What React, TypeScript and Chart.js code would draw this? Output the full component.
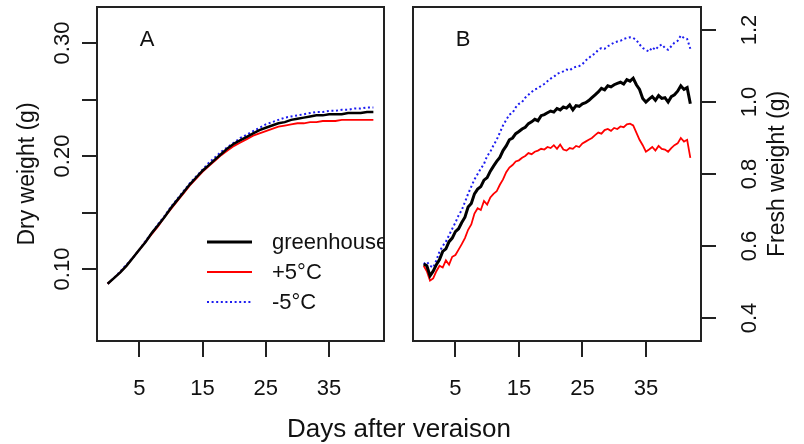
import React, { useEffect, useRef } from "react";
import { Chart, registerables } from "chart.js";
Chart.register(...registerables);

const FONT = '"Liberation Sans", Arial, Helvetica, sans-serif';

// ---- Panel A: dry weight ----
const daysA = [0, 1, 2, 3, 4, 5, 6, 7, 8, 9, 10, 11, 12, 13, 14, 15, 16, 17, 18, 19, 20, 21, 22, 23, 24, 25, 26, 27, 28, 29, 30, 31, 32, 33, 34, 35, 36, 37, 38, 39, 40, 41, 42];
const dryGreenhouse = [0.087, 0.092, 0.097, 0.103, 0.110, 0.117, 0.124, 0.132, 0.139, 0.146, 0.154, 0.161, 0.168, 0.175, 0.181, 0.187, 0.192, 0.197, 0.202, 0.207, 0.211, 0.214, 0.217, 0.220, 0.223, 0.225, 0.227, 0.229, 0.230, 0.232, 0.233, 0.234, 0.235, 0.236, 0.236, 0.237, 0.237, 0.237, 0.238, 0.238, 0.238, 0.239, 0.239];
const dryPlus5 = [0.087, 0.092, 0.097, 0.103, 0.110, 0.117, 0.124, 0.131, 0.138, 0.146, 0.153, 0.160, 0.167, 0.174, 0.180, 0.186, 0.191, 0.196, 0.201, 0.205, 0.209, 0.212, 0.215, 0.218, 0.220, 0.222, 0.224, 0.226, 0.227, 0.228, 0.229, 0.229, 0.230, 0.230, 0.231, 0.231, 0.231, 0.232, 0.232, 0.232, 0.232, 0.232, 0.232];
const dryMinus5 = [0.087, 0.092, 0.098, 0.104, 0.110, 0.117, 0.125, 0.132, 0.140, 0.147, 0.155, 0.162, 0.169, 0.176, 0.182, 0.188, 0.194, 0.199, 0.204, 0.208, 0.212, 0.216, 0.219, 0.222, 0.225, 0.228, 0.230, 0.232, 0.234, 0.235, 0.236, 0.237, 0.238, 0.239, 0.239, 0.240, 0.240, 0.241, 0.241, 0.242, 0.242, 0.243, 0.243];

// ---- Panel B: fresh weight ----
const daysB = [
  0, 0.5, 1, 1.5, 2, 2.5, 3, 3.5, 4, 4.5,
  5, 5.5, 6, 6.5, 7, 7.5, 8, 8.5, 9, 9.5,
  10, 10.5, 11, 11.5, 12, 12.5, 13, 13.5, 14, 14.5,
  15, 15.5, 16, 16.5, 17, 17.5, 18, 18.5, 19, 19.5,
  20, 20.5, 21, 21.5, 22, 22.5, 23, 23.5, 24, 24.5,
  25, 25.5, 26, 26.5, 27, 27.5, 28, 28.5, 29, 29.5,
  30, 30.5, 31, 31.5, 32, 32.5, 33, 33.5, 34, 34.5,
  35, 35.5, 36, 36.5, 37, 37.5, 38, 38.5, 39, 39.5,
  40, 40.5, 41, 41.5, 42,
];
const freshGreenhouse = [
  0.550, 0.545, 0.517, 0.530, 0.548, 0.562, 0.585, 0.592, 0.612, 0.622,
  0.640, 0.648, 0.665, 0.680, 0.708, 0.718, 0.745, 0.758, 0.765, 0.783,
  0.790, 0.808, 0.822, 0.835, 0.846, 0.865, 0.878, 0.895, 0.900, 0.912,
  0.918, 0.925, 0.930, 0.940, 0.945, 0.952, 0.948, 0.962, 0.965, 0.970,
  0.975, 0.972, 0.982, 0.978, 0.986, 0.983, 0.992, 0.978, 0.990, 0.988,
  0.995, 0.998, 1.004, 1.012, 1.020, 1.028, 1.038, 1.034, 1.045, 1.042,
  1.048, 1.052, 1.055, 1.050, 1.062, 1.058, 1.066, 1.048, 1.035, 1.010,
  1.000, 1.008, 1.015, 1.005, 1.018, 1.010, 1.012, 1.000, 1.015, 1.020,
  1.030, 1.045, 1.035, 1.040, 0.995,
];
const freshPlus5 = [
  0.545, 0.530, 0.504, 0.510, 0.530, 0.545, 0.540, 0.560, 0.548, 0.570,
  0.575, 0.590, 0.605, 0.622, 0.645, 0.660, 0.690, 0.705, 0.700, 0.725,
  0.715, 0.735, 0.745, 0.752, 0.770, 0.785, 0.805, 0.818, 0.825, 0.835,
  0.838, 0.845, 0.850, 0.858, 0.855, 0.862, 0.865, 0.870, 0.868, 0.875,
  0.872, 0.880, 0.870, 0.882, 0.868, 0.865, 0.872, 0.870, 0.878, 0.875,
  0.885, 0.890, 0.895, 0.900, 0.908, 0.915, 0.912, 0.922, 0.925, 0.920,
  0.928, 0.925, 0.932, 0.930, 0.938, 0.940, 0.935, 0.915, 0.895, 0.880,
  0.862, 0.868, 0.875, 0.865, 0.878, 0.870, 0.868, 0.862, 0.872, 0.880,
  0.885, 0.900, 0.890, 0.895, 0.845,
];
const freshMinus5 = [
  0.550, 0.556, 0.545, 0.540, 0.560, 0.585, 0.600, 0.612, 0.630, 0.648,
  0.665, 0.685, 0.700, 0.722, 0.745, 0.765, 0.785, 0.800, 0.815, 0.828,
  0.850, 0.862, 0.880, 0.895, 0.915, 0.935, 0.950, 0.965, 0.970, 0.985,
  0.995, 1.000, 1.012, 1.020, 1.028, 1.035, 1.038, 1.045, 1.050, 1.058,
  1.065, 1.070, 1.078, 1.082, 1.085, 1.090, 1.088, 1.095, 1.098, 1.100,
  1.105, 1.115, 1.122, 1.130, 1.135, 1.145, 1.150, 1.148, 1.155, 1.160,
  1.165, 1.168, 1.170, 1.175, 1.178, 1.180, 1.178, 1.172, 1.160, 1.150,
  1.145, 1.140, 1.152, 1.145, 1.155, 1.160, 1.150, 1.145, 1.155, 1.165,
  1.170, 1.185, 1.178, 1.175, 1.148,
];

const seriesNames = ["greenhouse", "+5°C", "-5°C"];
const xTicks = [5, 15, 25, 35];
const dryTicks = [0.1, 0.15, 0.2, 0.25, 0.3];
const dryTickLabels = ["0.10", "", "0.20", "", "0.30"];
const freshTicks = [0.4, 0.6, 0.8, 1.0, 1.2];
const freshTickLabels = ["0.4", "0.6", "0.8", "1.0", "1.2"];
const xTitle = "Days after veraison";
const dryTitle = "Dry weight (g)";
const freshTitle = "Fresh weight (g)";

const W = 804;
const H = 444;
const BOX = "#222";

function styles(blackWidth: number) {
  return [
    { borderColor: "#000000", borderWidth: blackWidth, borderDash: [] as number[] },
    { borderColor: "#ff0000", borderWidth: 1.8, borderDash: [] as number[] },
    { borderColor: "#1c1cf0", borderWidth: 2, borderDash: [2, 2.6] },
  ];
}

function xScale() {
  return {
    type: "linear" as const,
    min: -1.68,
    max: 43.68,
    afterBuildTicks: (s: any) => {
      s.ticks = xTicks.map((v) => ({ value: v }));
    },
    afterFit: (s: any) => {
      s.height = 103;
    },
    grid: { drawOnChartArea: false, drawTicks: true, tickLength: 16, color: BOX, lineWidth: 2 },
    border: { display: false },
    ticks: {
      color: "#111",
      font: { family: FONT, size: 22 },
      padding: 19,
      maxRotation: 0,
      minRotation: 0,
      autoSkip: false,
      callback: (v: any) => String(v),
    },
  };
}

function rotatedText(ctx: CanvasRenderingContext2D, text: string, x: number, y: number, size: number) {
  ctx.save();
  ctx.translate(x, y);
  ctx.rotate(-Math.PI / 2);
  ctx.font = `${size}px ${FONT}`;
  ctx.fillStyle = "#111";
  ctx.textAlign = "center";
  ctx.textBaseline = "middle";
  ctx.fillText(text, 0, 0);
  ctx.restore();
}

function drawBox(chart: any) {
  const { ctx, chartArea: a } = chart;
  ctx.save();
  ctx.strokeStyle = BOX;
  ctx.lineWidth = 2;
  ctx.strokeRect(a.left, a.top, a.right - a.left, a.bottom - a.top);
  ctx.restore();
}

function drawLetter(chart: any, letter: string) {
  const { ctx, chartArea: a } = chart;
  ctx.save();
  ctx.font = `22px ${FONT}`;
  ctx.fillStyle = "#111";
  ctx.textAlign = "center";
  ctx.textBaseline = "middle";
  ctx.fillText(letter, a.left + 50, 40);
  ctx.restore();
}

const panelAPlugin = {
  id: "panelA",
  afterDraw(chart: any) {
    const { ctx, chartArea: a } = chart;
    drawBox(chart);
    drawLetter(chart, "A");
    const ys = chart.scales.y;
    dryTicks.forEach((v, i) => {
      if (dryTickLabels[i]) rotatedText(ctx, dryTickLabels[i], 63, ys.getPixelForValue(v), 22);
    });
    rotatedText(ctx, dryTitle, 28, (a.top + a.bottom) / 2, 23);
    // legend
    ctx.save();
    ctx.beginPath();
    ctx.rect(a.left, a.top, a.right - a.left, a.bottom - a.top);
    ctx.clip();
    const st = styles(3);
    seriesNames.forEach((name, i) => {
      const y = 242 + i * 30;
      ctx.save();
      ctx.strokeStyle = st[i].borderColor;
      ctx.lineWidth = st[i].borderWidth;
      ctx.setLineDash(st[i].borderDash);
      ctx.beginPath();
      ctx.moveTo(207, y);
      ctx.lineTo(252, y);
      ctx.stroke();
      ctx.restore();
      ctx.font = `22px ${FONT}`;
      ctx.fillStyle = "#111";
      ctx.textAlign = "left";
      ctx.textBaseline = "middle";
      ctx.fillText(name, 272, y + 1);
    });
    ctx.restore();
    // common x title
    ctx.save();
    ctx.font = `26px ${FONT}`;
    ctx.fillStyle = "#111";
    ctx.textAlign = "center";
    ctx.textBaseline = "middle";
    ctx.fillText(xTitle, 399, 430);
    ctx.restore();
  },
};

const panelBPlugin = {
  id: "panelB",
  afterDraw(chart: any) {
    const { ctx, chartArea: a } = chart;
    drawBox(chart);
    drawLetter(chart, "B");
    const ys = chart.scales.y;
    freshTicks.forEach((v, i) => {
      rotatedText(ctx, freshTickLabels[i], 750, ys.getPixelForValue(v), 22);
    });
    rotatedText(ctx, freshTitle, 778, (a.top + a.bottom) / 2, 23);
  },
};

export default function App() {
  const refA = useRef<HTMLCanvasElement>(null);
  const refB = useRef<HTMLCanvasElement>(null);

  useEffect(() => {
    const stA = styles(2.5);
    const chartA = new Chart(refA.current as HTMLCanvasElement, {
      type: "line",
      data: {
        labels: daysA,
        datasets: [dryGreenhouse, dryPlus5, dryMinus5].map((d, i) => ({
          label: seriesNames[i],
          data: d,
          ...stA[i],
          pointRadius: 0,
          fill: false,
          tension: 0,
        })),
      },
      options: {
        responsive: false,
        animation: false,
        events: [],
        layout: { padding: { left: 0, top: 7, right: W - 384, bottom: 0 } },
        plugins: { legend: { display: false }, tooltip: { enabled: false } },
        scales: {
          x: xScale() as any,
          y: {
            type: "linear",
            min: 0.0363,
            max: 0.3319,
            afterBuildTicks: (s: any) => {
              s.ticks = dryTicks.map((v) => ({ value: v }));
            },
            afterFit: (s: any) => {
              s.width = 97;
            },
            grid: { drawOnChartArea: false, drawTicks: true, tickLength: 15, color: BOX, lineWidth: 2 },
            border: { display: false },
            ticks: { display: false },
          },
        },
      },
      plugins: [panelAPlugin],
    });

    const stB = styles(3);
    const chartB = new Chart(refB.current as HTMLCanvasElement, {
      type: "line",
      data: {
        labels: daysB,
        datasets: [freshGreenhouse, freshPlus5, freshMinus5].map((d, i) => ({
          label: seriesNames[i],
          data: d,
          ...stB[i],
          pointRadius: 0,
          fill: false,
          tension: 0,
        })),
      },
      options: {
        responsive: false,
        animation: false,
        events: [],
        layout: { padding: { left: 413, top: 7, right: 0, bottom: 0 } },
        plugins: { legend: { display: false }, tooltip: { enabled: false } },
        scales: {
          x: xScale() as any,
          y: {
            type: "linear",
            position: "right",
            min: 0.336,
            max: 1.264,
            afterBuildTicks: (s: any) => {
              s.ticks = freshTicks.map((v) => ({ value: v }));
            },
            afterFit: (s: any) => {
              s.width = W - 701;
            },
            grid: { drawOnChartArea: false, drawTicks: true, tickLength: 15, color: BOX, lineWidth: 2 },
            border: { display: false },
            ticks: { display: false },
          },
        },
      },
      plugins: [panelBPlugin],
    });

    return () => {
      chartA.destroy();
      chartB.destroy();
    };
  }, []);

  const canvasStyle: React.CSSProperties = { position: "absolute", left: 0, top: 0, display: "block" };
  return (
    <div style={{ position: "absolute", left: 0, top: 0, width: W, height: H, background: "#fff" }}>
      <canvas ref={refA} width={W} height={H} style={canvasStyle} />
      <canvas ref={refB} width={W} height={H} style={canvasStyle} />
    </div>
  );
}
